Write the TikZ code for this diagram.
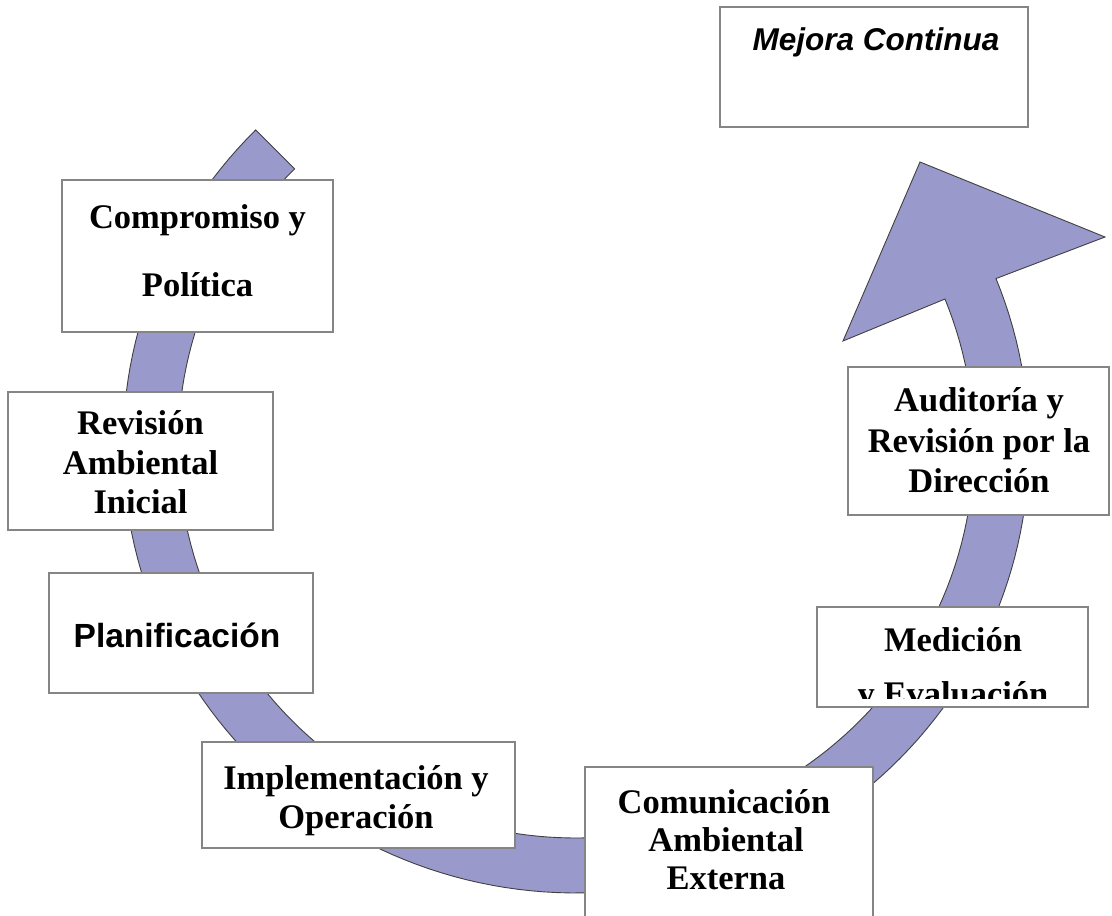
\documentclass[tikz,border=0pt]{standalone}
\usepackage{fontspec}
\setmainfont{Liberation Serif}
\newfontfamily\arialfont{Liberation Sans}
\definecolor{arrowfill}{HTML}{9999CC}
\definecolor{arrowline}{HTML}{404040}
\definecolor{boxgray}{HTML}{858585}
\tikzset{
  boxnode/.style={draw=boxgray, line width=1.8pt, fill=white, inner sep=0pt, outer sep=0pt},
  serifline/.style={font=\fontsize{34.5}{39}\selectfont\bfseries, anchor=base, inner sep=0pt},
  sansline/.style={font=\arialfont\fontsize{33.5}{39}\selectfont\bfseries, anchor=base, inner sep=0pt},
  sansitline/.style={font=\arialfont\fontsize{31.5}{38}\selectfont\bfseries\itshape, anchor=base, inner sep=0pt},
  bandarrow/.style={fill=arrowfill, draw=arrowline, line width=0.9pt, line join=miter}
}
\begin{document}
\begin{tikzpicture}[x=1pt,y=-1pt]
\useasboundingbox (0,0) rectangle (1112,916);
\clip (0,0) rectangle (1112,916);

% big curved arrow
\path[bandarrow]
  plot[domain=0:247, samples=150] ({576+453*cos(225-\x)},{446+447*sin(225-\x)})
  -- (1105,237) -- (920,162) -- (843,341) -- (945,299)
  -- plot[domain=0:247, samples=150] ({576+398*cos(-22+\x)},{446+392*sin(-22+\x)})
  -- cycle;

% boxes
\node[boxnode, minimum width=308, minimum height=120] (mejora) at (874,67) {};
\node[boxnode, minimum width=271, minimum height=152] (comp) at (197.5,256) {};
\node[boxnode, minimum width=265, minimum height=138] (rev) at (140.5,461) {};
\node[boxnode, minimum width=264, minimum height=120] (plan) at (181,633) {};
\node[boxnode, minimum width=313, minimum height=106] (impl) at (358.5,795) {};
\node[boxnode, minimum width=288, minimum height=170] (comu) at (729,852) {};
\node[boxnode, minimum width=271, minimum height=100] (med) at (952.5,657) {};
\node[boxnode, minimum width=261, minimum height=148] (aud) at (978.5,441) {};

% texts
\node[sansitline] (mejora1) at (876,50) {Mejora Continua};

\node[serifline] (comp1) at (197.5,228) {Compromiso y};
\node[serifline] (comp2) at (197.5,296) {Política};

\node[serifline] (rev1) at (140.5,434) {Revisión};
\node[serifline] (rev2) at (140.5,474) {Ambiental};
\node[serifline] (rev3) at (140.5,513) {Inicial};

\node[sansline] (plan1) at (177,647) {Planificación};

\node[serifline] (impl1) at (356,789) {Implementación y};
\node[serifline] (impl2) at (356,828) {Operación};

\node[serifline] (comu1) at (724,813) {Comunicación};
\node[serifline] (comu2) at (726,851) {Ambiental};
\node[serifline] (comu3) at (726,889) {Externa};

\begin{scope}
  \clip (818,608) rectangle (1087,698);
  \node[serifline] (med1) at (953,651) {Medición};
  \node[serifline] (med2) at (953,705) {y Evaluación};
\end{scope}

\node[serifline] (aud1) at (979,411) {Auditoría y};
\node[serifline] (aud2) at (979,452) {Revisión por la};
\node[serifline] (aud3) at (979,492) {Dirección};
\end{tikzpicture}
\end{document}
